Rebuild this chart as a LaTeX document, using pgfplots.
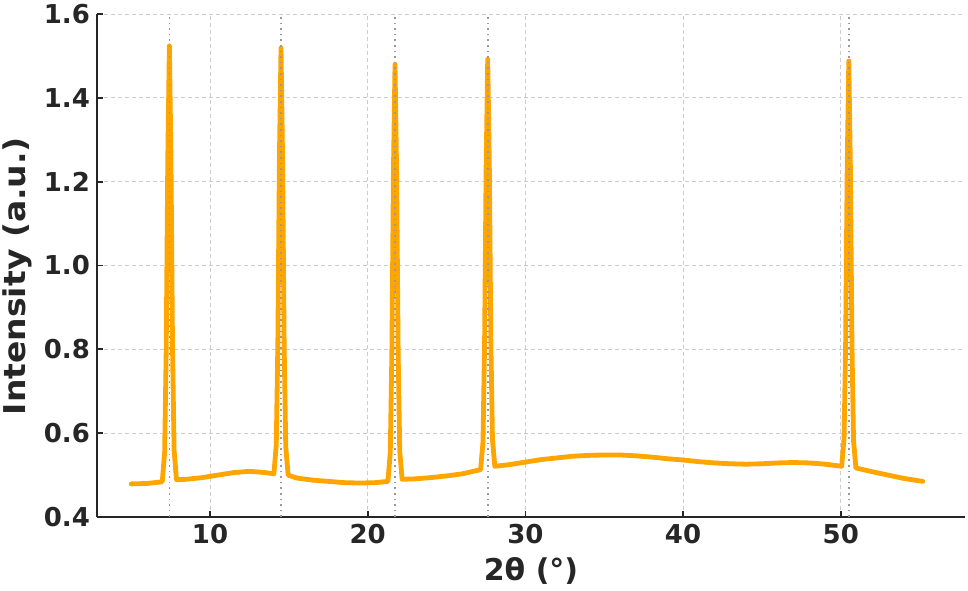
\documentclass[border=0pt]{standalone}
\usepackage{fontspec}
\setmainfont{DejaVu Sans}
\usepackage{pgfplots}
\pgfplotsset{compat=1.18}
\definecolor{xrdorange}{HTML}{FFA500}
\definecolor{gridgray}{HTML}{CCCCCC}
\definecolor{peakgray}{HTML}{999999}
\definecolor{spine}{HTML}{262626}

\begin{document}
\begin{tikzpicture}
\begin{axis}[
  scale only axis,width=434pt,height=251.5pt,
  xmin=2.83,xmax=57.88,ymin=0.4,ymax=1.6,
  axis x line*=bottom,axis y line*=left,
  axis line style={spine,line width=1pt},
  xtick={10,20,30,40,50},ytick={0.4,0.6,...,1.61},
  tick align=inside,major tick length=3pt,
  tick style={spine,line width=0.9pt},
  grid=major,major grid style={gridgray,dash pattern=on 2pt off 1.5pt,line width=0.5pt},
  yticklabel style={/pgf/number format/.cd,fixed,fixed zerofill,precision=1},
  /pgf/number format/assume math mode=true,
  ticklabel style={font=\fontsize{13}{15}\selectfont\bfseries,text=spine},
  xlabel={2θ (°)},ylabel={\scalebox{1.1}[1]{Intensity (a.u.)}},
  every axis x label/.style={at={(axis description cs:0.5,-0.1074)},anchor=center,
    font=\fontsize{15}{18}\selectfont\bfseries,text=spine},
  every axis y label/.style={at={(axis description cs:-0.0922,0.479)},anchor=center,rotate=90,
    font=\fontsize{15}{18}\selectfont\bfseries,text=spine},
]
% pattern
\addplot[xrdorange,line width=2.4pt,line join=round,line cap=round] coordinates {
(5.0,0.479) (6.0,0.480) (6.97,0.484)
(7.12,0.555) (7.22,0.800) (7.32,1.256) (7.42,1.524) (7.52,1.260) (7.62,0.804) (7.72,0.559) (7.87,0.489)
(8.5,0.490) (9.5,0.494) (10.5,0.500) (11.5,0.506) (12.5,0.509) (13.5,0.506) (14.05,0.503)
(14.20,0.573) (14.30,0.814) (14.40,1.259) (14.50,1.519) (14.60,1.254) (14.70,0.809) (14.80,0.568) (14.95,0.500)
(15.5,0.493) (16.5,0.488) (17.5,0.485) (18.5,0.482) (19.5,0.481) (20.5,0.482) (21.28,0.485)
(21.43,0.554) (21.53,0.788) (21.63,1.224) (21.73,1.480) (21.83,1.227) (21.93,0.791) (22.03,0.557) (22.18,0.490)
(23,0.491) (24,0.494) (25,0.498) (26,0.503) (27.16,0.513)
(27.31,0.580) (27.41,0.811) (27.51,1.239) (27.61,1.492) (27.71,1.245) (27.81,0.817) (27.91,0.586) (28.06,0.521)
(29,0.525) (30,0.531) (31,0.537) (32,0.541) (33,0.545) (34,0.547) (35,0.548) (36,0.548)
(37,0.546) (38,0.543) (39,0.539) (40,0.536) (41,0.532) (42,0.529) (43,0.527) (44,0.526)
(45,0.527) (46,0.529) (47,0.530) (48,0.529) (49,0.526) (50.06,0.521)
(50.21,0.588) (50.31,0.817) (50.41,1.242) (50.51,1.488) (50.61,1.236) (50.71,0.811) (50.81,0.582) (50.96,0.517)
(52,0.508) (53,0.500) (54,0.492) (55.2,0.485)
};
% peak markers
\addplot[peakgray,dotted,line width=0.8pt] coordinates {(7.42,0.4) (7.42,1.6)};
\addplot[peakgray,dotted,line width=0.8pt] coordinates {(14.50,0.4) (14.50,1.6)};
\addplot[peakgray,dotted,line width=0.8pt] coordinates {(21.73,0.4) (21.73,1.6)};
\addplot[peakgray,dotted,line width=0.8pt] coordinates {(27.61,0.4) (27.61,1.6)};
\addplot[peakgray,dotted,line width=0.8pt] coordinates {(50.51,0.4) (50.51,1.6)};
\coordinate (bl) at (rel axis cs:0,0);
\coordinate (tr) at (rel axis cs:1,1);
\end{axis}
\pgfresetboundingbox
\path[use as bounding box] ([shift={(-48.5pt,-36.5pt)}]bl) rectangle ([shift={(1.5pt,7pt)}]tr);
\end{tikzpicture}
\end{document}
